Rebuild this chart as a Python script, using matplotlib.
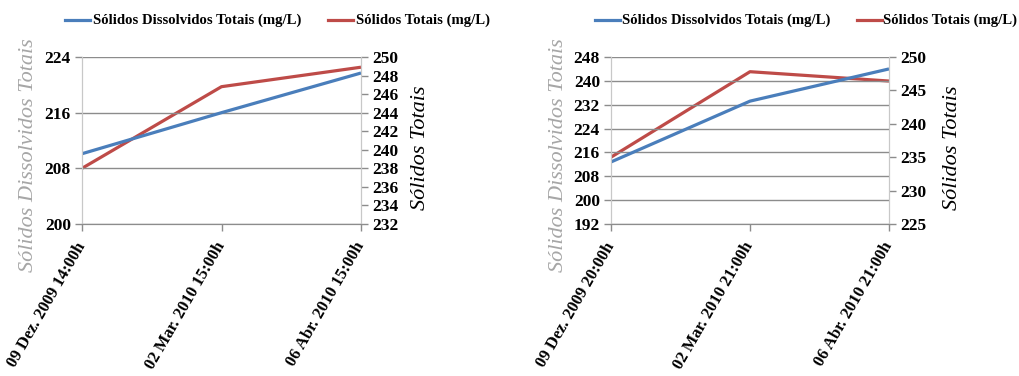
import matplotlib
matplotlib.use("Agg")
import matplotlib.pyplot as plt
from matplotlib.lines import Line2D

# Sampling dates for each station
dates_a = ["09 Dez. 2009 14:00h", "02 Mar. 2010 15:00h", "06 Abr. 2010 15:00h"]
dates_b = ["09 Dez. 2009 20:00h", "02 Mar. 2010 21:00h", "06 Abr. 2010 21:00h"]

# Total dissolved solids (mg/L), left axis
tds_a = [210.1, 216.0, 221.7]
tds_b = [212.8, 233.2, 244.0]

# Total solids (mg/L), right axis
ts_a = [238.0, 246.8, 248.9]
ts_b = [235.0, 247.8, 246.4]

left_ticks_a = [200, 208, 216, 224]
right_ticks_a = [232, 234, 236, 238, 240, 242, 244, 246, 248, 250]
left_ticks_b = [192, 200, 208, 216, 224, 232, 240, 248]
right_ticks_b = [225, 230, 235, 240, 245, 250]

legend_labels = ["Sólidos Dissolvidos Totais (mg/L)", "Sólidos Totais (mg/L)"]

BLUE = "#4a7ebb"
RED = "#be4b48"
GRID = "#8c8c8c"
SERIF = "Liberation Serif"

W, H = 1020, 376
fig = plt.figure(figsize=(W / 100, H / 100), dpi=100)


def px(x, y):
    """Pixel position (from top-left) to figure fraction."""
    return x / W, 1 - y / H


def legend_entry(x_line, x_text, color, text):
    x0, y = px(x_line, 20)
    x1, _ = px(x_line + 25, 20)
    fig.add_artist(Line2D([x0, x1], [y, y], color=color, lw=2.3,
                          transform=fig.transFigure))
    fig.text(x_text / W, y, text, ha="left", va="center",
             fontfamily=SERIF, fontweight="bold", fontsize=10.6)


def panel(x0, x1, dates, tds, ts, lticks, rticks, lab_l, lab_r):
    ax = fig.add_axes([x0 / W, 1 - 224 / H, (x1 - x0) / W, 167 / H])
    ax2 = ax.twinx()
    xs = list(range(len(dates)))
    ax.plot(xs, tds, color=BLUE, lw=2.3, solid_capstyle="butt")
    ax2.plot(xs, ts, color=RED, lw=2.3, solid_capstyle="butt")
    ax.set_zorder(ax2.get_zorder() + 1)
    ax.patch.set_visible(False)

    ax.set_xlim(0, len(dates) - 1)
    ax.set_ylim(lticks[0], lticks[-1])
    ax2.set_ylim(rticks[0], rticks[-1])
    ax.set_yticks(lticks)
    ax2.set_yticks(rticks)
    ax.set_xticks(xs)
    ax.set_xticklabels(dates, rotation=60, ha="right", va="center",
                       rotation_mode="anchor", fontfamily=SERIF,
                       fontweight="bold", fontsize=12)
    for a in (ax, ax2):
        for lab in a.get_yticklabels():
            lab.set_fontfamily(SERIF)
            lab.set_fontweight("bold")
            lab.set_fontsize(12.5)

    ax.grid(axis="y", color=GRID, lw=1)
    ax.set_axisbelow(True)
    for a in (ax, ax2):
        a.spines["top"].set_visible(False)
        a.spines["left"].set_color("#c8c8c8")
        a.spines["right"].set_color("#c8c8c8")
        a.spines["bottom"].set_color(GRID)
        a.tick_params(length=5, width=1, color=GRID, pad=3)
    ax.tick_params(axis="x", length=5, pad=9)

    ax.set_ylabel("Sólidos Dissolvidos Totais", fontfamily=SERIF,
                  fontstyle="italic", fontsize=16, color="#a6a6a6")
    ax.yaxis.set_label_coords(lab_l, 0.41)
    ax2.set_ylabel("Sólidos Totais", fontfamily=SERIF, fontstyle="italic",
                   fontsize=16, color="black")
    ax2.yaxis.set_label_coords(lab_r, 0.455)
    return ax, ax2


panel(82, 361, dates_a, tds_a, ts_a, left_ticks_a, right_ticks_a,
      -0.158, 1.18)
panel(611, 889, dates_b, tds_b, ts_b, left_ticks_b, right_ticks_b,
      -0.155, 1.195)

legend_entry(65, 93, BLUE, legend_labels[0])
legend_entry(328, 356, RED, legend_labels[1])
legend_entry(595, 622, BLUE, legend_labels[0])
legend_entry(857, 883, RED, legend_labels[1])

fig.savefig("out.png", dpi=100, facecolor="white")
